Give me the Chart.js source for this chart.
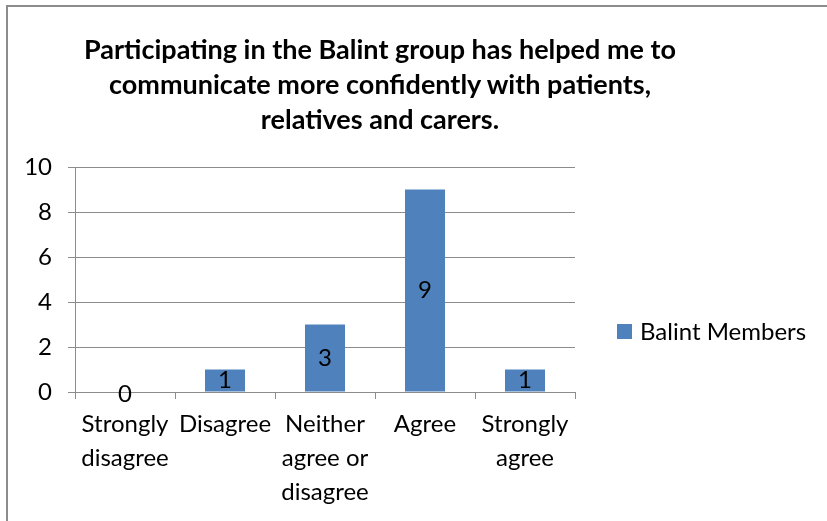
<!DOCTYPE html>
<html>
<head>
<meta charset="utf-8">
<script src="https://cdn.jsdelivr.net/npm/chart.js"></script>
<style>
  html, body { margin: 0; padding: 0; background: #fff; }
  body { width: 827px; height: 521px; position: relative; overflow: hidden; font-family: Lato, "Open Sans", sans-serif; }
  #frame { position: absolute; left: 6px; top: 5px; width: 900px; height: 600px; border-left: 2px solid #8c8c8c; border-top: 2px solid #8c8c8c; }
  #title { position: absolute; left: 30px; width: 700px; top: 31px; text-align: center; font-weight: bold; font-size: 27px; line-height: 35px; color: #000; }
  #legend { position: absolute; left: 617px; top: 316px; font-size: 24px; color: #000; white-space: nowrap; }
  #legend span.box { display: inline-block; width: 15px; height: 15px; background: #4F81BD; margin-right: 8px; vertical-align: 1px; }
  #wrap { position: absolute; left: 0; top: 0; width: 827px; height: 521px; }
</style>
</head>
<body>
<div id="frame"></div>
<div id="wrap"><canvas id="chart" width="827" height="521"></canvas></div>
<div id="title">Participating in the Balint group has helped me to<br>communicate more confidently with patients,<br>relatives and carers.</div>
<div id="legend"><span class="box"></span>Balint Members</div>
<script>
const categories = [
    ['Strongly', 'disagree'],
    ['Disagree'],
    ['Neither', 'agree or', 'disagree'],
    ['Agree'],
    ['Strongly', 'agree']
];
const seriesName = 'Balint Members';
const balintMembers = [0, 1, 3, 9, 1];
const yTicks = [0, 2, 4, 6, 8, 10];

const barColor = '#4F81BD';
const gridColor = '#8c8c8c';

// labels drawn in the middle of each bar
const centerLabels = {
    id: 'centerLabels',
    afterDatasetsDraw(chart) {
        const ctx = chart.ctx;
        const meta = chart.getDatasetMeta(0);
        ctx.save();
        ctx.font = '24px Lato';
        ctx.fillStyle = '#000';
        ctx.textAlign = 'center';
        ctx.textBaseline = 'middle';
        meta.data.forEach((bar, i) => {
            const v = balintMembers[i];
            const y = (bar.y + bar.base) / 2;
            ctx.fillText(String(v), bar.x, v === 0 ? y + 2 : y);
        });
        ctx.restore();
    }
};

new Chart(document.getElementById('chart'), {
    type: 'bar',
    data: {
        labels: categories,
        datasets: [{
            label: seriesName,
            data: balintMembers,
            backgroundColor: barColor,
            barPercentage: 0.4,
            categoryPercentage: 1
        }]
    },
    options: {
        responsive: false,
        animation: false,
        layout: { padding: { top: 167, right: 252, left: 0, bottom: 0 } },
        plugins: {
            legend: { display: false },
            title: { display: false },
            tooltip: { enabled: false }
        },
        scales: {
            x: {
                grid: { drawOnChartArea: false, drawTicks: true, tickLength: 7, color: gridColor, offset: true },
                border: { color: gridColor, width: 1 },
                ticks: { color: '#000', font: { family: 'Lato', size: 24, lineHeight: 1.42 }, padding: 8, maxRotation: 0, autoSkip: false },
                afterFit: (scale) => { scale.height = 129; }
            },
            y: {
                min: 0,
                max: 10,
                afterBuildTicks: (scale) => { scale.ticks = yTicks.map(v => ({ value: v })); },
                grid: { color: gridColor, tickLength: 7, lineWidth: 1 },
                border: { color: gridColor, width: 1 },
                ticks: { color: '#000', font: { family: 'Lato', size: 24 }, padding: 16 },
                afterFit: (scale) => { scale.width = 75; }
            }
        }
    },
    plugins: [centerLabels]
});
</script>
</body>
</html>
